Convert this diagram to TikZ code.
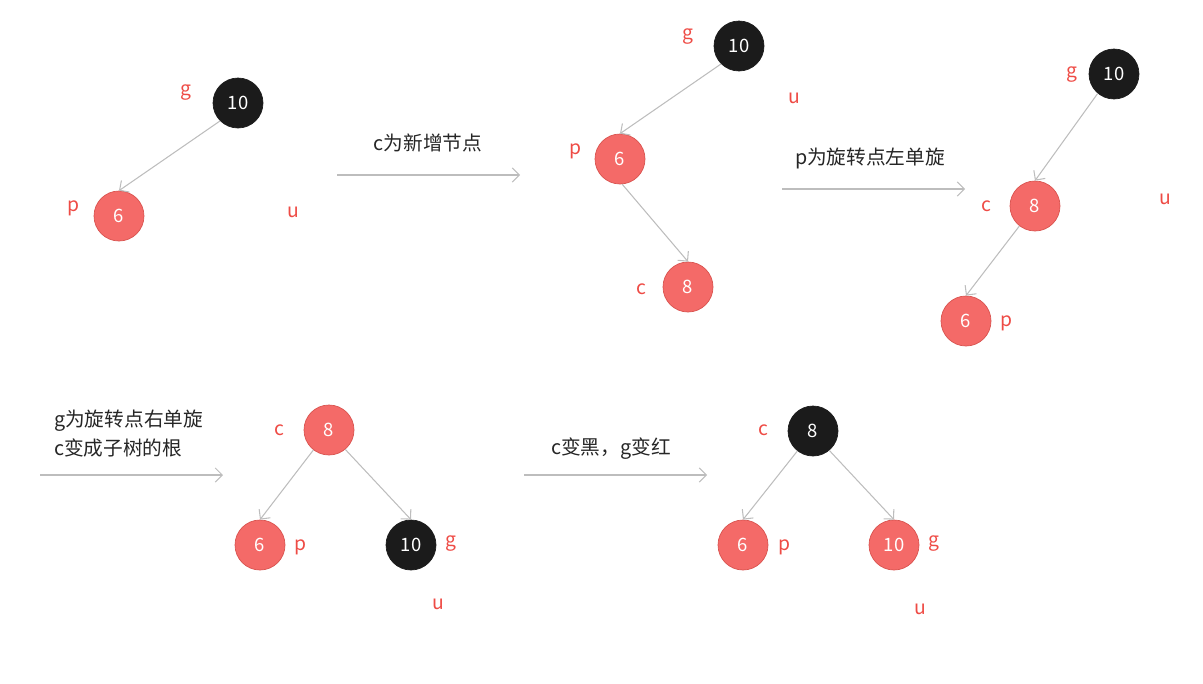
\documentclass[tikz,border=0pt]{standalone}
\usepackage{fontspec}
\setmainfont{Noto Sans CJK SC}
\usetikzlibrary{arrows.meta}
\definecolor{rbred}{HTML}{F46A68}
\definecolor{rbredline}{HTML}{D9534F}
\definecolor{rbblack}{HTML}{1B1B1B}
\definecolor{tagred}{HTML}{EE4B45}
\definecolor{edgegray}{HTML}{BDBDBD}
\tikzset{
  rednode/.style={circle, fill=rbred, draw=rbredline, minimum size=1cm, inner sep=0pt, text=white, font=\fontsize{10.5}{12}\selectfont},
  blacknode/.style={circle, fill=rbblack, draw=rbblack, minimum size=1cm, inner sep=0pt, text=white, font=\fontsize{10.5}{12}\selectfont},
  tag/.style={text=tagred, font=\fontsize{11}{13}\selectfont},
  edge/.style={draw=edgegray, semithick, -{Straight Barb[length=4pt,width=8pt]}},
  flow/.style={draw=edgegray, semithick, -{Straight Barb[length=4pt,width=8pt]}},
  caption/.style={text=black!85, font=\fontsize{11.2}{16.5}\selectfont, align=left}
}
\begin{document}
\begin{tikzpicture}[x=0.02cm, y=-0.02cm]
\useasboundingbox (0,0) rectangle (1203,683);

% Arbol 1
\node [blacknode] (g1) at (238,103) {10};
\node [rednode] (p1) at (119,216) {6};
\draw [edge] (g1.225) -- (p1.north);
\node [tag] (g1t) at (186,93) {g};
\node [tag] (p1t) at (73,208) {p};
\node [tag] (u1t) at (293,212) {u};

% c es nuevo
\coordinate (f1s) at (337,175);
\coordinate (f1e) at (520,175);
\draw [flow] (f1s) -- (f1e);
\node [caption] (f1t) at (428,143) {c为新增节点};

% Arbol 2
\node [blacknode] (g2) at (739,46) {10};
\node [rednode] (p2) at (620,159) {6};
\node [rednode] (c2) at (688,287) {8};
\draw [edge] (g2.225) -- (p2.north);
\draw [edge] (p2.275) -- (c2.north);
\node [tag] (g2t) at (688,37) {g};
\node [tag] (u2t) at (794,98) {u};
\node [tag] (p2t) at (575,151) {p};
\node [tag] (c2t) at (641,289) {c};

% Rotacion izquierda en p
\coordinate (f2s) at (782,189);
\coordinate (f2e) at (965,189);
\draw [flow] (f2s) -- (f2e);
\node [caption] (f2t) at (870,158) {p为旋转点左单旋};

% Arbol 3
\node [blacknode] (g3) at (1114,74) {10};
\node [rednode] (c3) at (1035,206) {8};
\node [rednode] (p3) at (966,321) {6};
\draw [edge] (g3.230) -- (c3.north);
\draw [edge] (c3.232) -- (p3.north);
\node [tag] (g3t) at (1072,75) {g};
\node [tag] (u3t) at (1165,199) {u};
\node [tag] (c3t) at (986,206) {c};
\node [tag] (p3t) at (1006,323) {p};

% Rotacion derecha en g
\coordinate (f3s) at (40,475);
\coordinate (f3e) at (223,475);
\draw [flow] (f3s) -- (f3e);
\node [caption, anchor=west] (f3t) at (48,434) {g为旋转点右单旋\\c变成子树的根};

% Arbol 4
\node [rednode] (c4) at (329,430) {8};
\node [rednode] (p4) at (260,545) {6};
\node [blacknode] (g4) at (411,545) {10};
\draw [edge] (c4.232) -- (p4.north);
\draw [edge] (c4.310) -- (g4.north);
\node [tag] (c4t) at (279,430) {c};
\node [tag] (p4t) at (300,547) {p};
\node [tag] (g4t) at (451,544) {g};
\node [tag] (u4t) at (438,604) {u};

% Recolorear
\coordinate (f4s) at (524,475);
\coordinate (f4e) at (707,475);
\draw [flow] (f4s) -- (f4e);
\node [caption] (f4t) at (611,449) {c变黑，g变红};

% Arbol 5
\node [blacknode] (c5) at (813,431) {8};
\node [rednode] (p5) at (743,545) {6};
\node [rednode] (g5) at (894,545) {10};
\draw [edge] (c5.232) -- (p5.north);
\draw [edge] (c5.310) -- (g5.north);
\node [tag] (c5t) at (763,430) {c};
\node [tag] (p5t) at (784,547) {p};
\node [tag] (g5t) at (934,544) {g};
\node [tag] (u5t) at (920,609) {u};
\end{tikzpicture}
\end{document}
